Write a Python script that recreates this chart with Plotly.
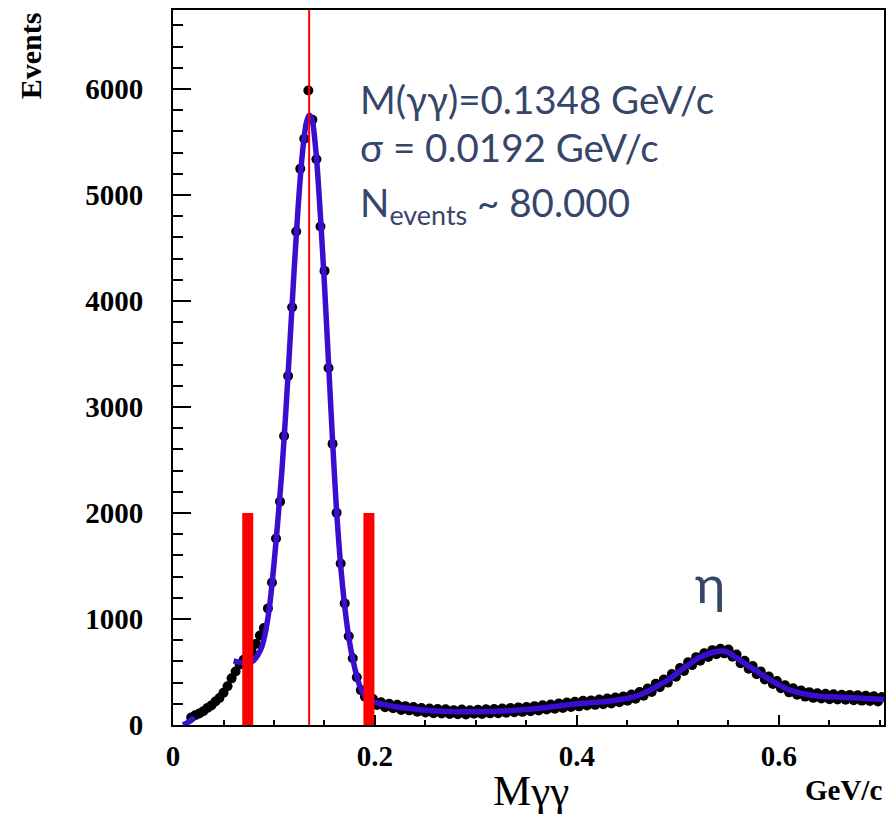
import numpy as np
import plotly.graph_objects as go

# Di-photon invariant mass histogram: 4 MeV bins starting at 0.016 GeV/c
BIN_LO = 0.016
BIN_W = 0.004
counts = [
    70, 92, 108, 130, 160, 185, 222, 255, 305, 365,
    440, 505, 570, 615, 650, 690, 765, 845, 915, 1100,
    1345, 1759, 2107, 2727, 3292, 3941, 4655, 5248, 5530, 5985,
    5709, 5337, 4702, 4284, 3367, 2652, 2003, 1524, 1147, 837,
    630, 451, 329,
    # 0.190 ...
    268, 218, 246, 188, 214, 168, 200, 158, 190, 142,
    178, 138, 170, 126, 160, 118, 156, 112, 150, 108,
    148, 104, 140, 102, 146, 100, 138, 106, 144, 104,
    148, 110, 150, 112, 156, 116, 160, 120, 166, 124,
    170, 130, 178, 136, 186, 146, 194, 154, 204, 160,
    212, 170, 220, 176, 228, 184, 232, 190, 240, 196,
    250, 204, 260, 214, 270, 228, 288, 248, 312, 276,
    345, 312, 388, 356, 430, 400, 480, 455, 538, 510,
    592, 565, 640, 606, 676, 642, 706, 668, 720, 676,
    712, 645, 664, 582, 606, 530, 556, 478, 505, 430,
    458, 386, 414, 346, 374, 308, 346, 286, 326, 268,
    310, 256, 300, 250, 294, 244, 290, 240, 286, 238,
    284, 234, 280, 230, 276, 226, 272, 222, 264,
]
bin_centers = BIN_LO + BIN_W * (np.arange(len(counts)) + 0.5)

# Fitted curve (signal + background), sampled points
fit_x = [0.010, 0.014, 0.018, 0.021, None,
         0.060, 0.064, 0.068, 0.072, 0.076, 0.080, 0.084, 0.088, 0.092, 0.096,
         0.100, 0.104, 0.108, 0.112, 0.116, 0.120, 0.124, 0.128, 0.132, 0.135,
         0.138, 0.142, 0.146, 0.150, 0.154, 0.158, 0.162, 0.166, 0.170, 0.174,
         0.178, 0.182, 0.186, 0.190, 0.194, 0.198, 0.202, 0.210, 0.220, 0.230,
         0.240, 0.250, 0.260, 0.270, 0.280, 0.290, 0.300, 0.310, 0.320, 0.330,
         0.340, 0.350, 0.360, 0.370, 0.380, 0.390, 0.400, 0.410, 0.420, 0.430,
         0.440, 0.450, 0.460, 0.470, 0.480, 0.490, 0.500, 0.510, 0.520, 0.530,
         0.540, 0.545, 0.550, 0.560, 0.570, 0.580, 0.590, 0.600, 0.610, 0.620,
         0.630, 0.640, 0.650, 0.660, 0.670, 0.680, 0.690, 0.700, 0.704]
fit_y = [0, 20, 45, 72, None,
         605, 595, 588, 585, 590, 610, 660, 740, 900, 1150,
         1520, 1950, 2420, 3000, 3640, 4300, 4900, 5380, 5680, 5755,
         5700, 5360, 4800, 4150, 3420, 2680, 2010, 1500, 1120, 830,
         620, 460, 340, 275, 240, 220, 208, 190, 172, 160,
         150, 140, 133, 128, 125, 124, 125, 127, 130, 134,
         140, 147, 156, 166, 178, 190, 200, 208, 215, 224,
         236, 252, 276, 318, 370, 425, 495, 565, 630, 672,
         695, 698, 685, 620, 555, 495, 432, 378, 332, 305,
         285, 272, 266, 262, 258, 254, 248, 242, 240]

# Mass window and mean
mean_mass = 0.1348
cut_lo, cut_hi = 0.074, 0.194
cut_height = 2000

x_range = [0, 0.704]
y_range = [0, 6745]

fig = go.Figure()

fig.add_trace(go.Scatter(
    x=bin_centers, y=counts, mode="markers",
    marker=dict(color="black", size=10), hoverinfo="skip", showlegend=False))

fig.add_trace(go.Scatter(
    x=fit_x, y=fit_y, mode="lines",
    line=dict(color="rgb(58,14,208)", width=5.5, shape="spline", smoothing=0.6),
    connectgaps=False, hoverinfo="skip", showlegend=False))

fig.add_trace(go.Scatter(
    x=[mean_mass, mean_mass], y=y_range, mode="lines",
    line=dict(color="red", width=2), hoverinfo="skip", showlegend=False))

for xc in (cut_lo, cut_hi):
    fig.add_trace(go.Scatter(
        x=[xc, xc], y=[0, cut_height], mode="lines",
        line=dict(color="red", width=11), hoverinfo="skip", showlegend=False))

tick_font = dict(family="Liberation Serif, Times New Roman, serif", size=29,
                 color="black", weight="bold")

fig.update_xaxes(
    range=x_range, dtick=0.2, tick0=0, showgrid=False, zeroline=False,
    showline=True, mirror=True, linecolor="black", linewidth=2,
    ticks="inside", ticklen=10, tickwidth=2, tickcolor="black",
    minor=dict(dtick=0.05, tick0=0, ticks="inside", ticklen=5, tickwidth=2, tickcolor="black"),
    tickfont=tick_font, ticklabelstandoff=4)

fig.update_yaxes(
    range=y_range, dtick=1000, tick0=0, showgrid=False, zeroline=False,
    showline=True, mirror=True, linecolor="black", linewidth=2,
    ticks="inside", ticklen=18, tickwidth=2, tickcolor="black",
    minor=dict(dtick=200, tick0=0, ticks="inside", ticklen=10, tickwidth=2, tickcolor="black"),
    tickfont=tick_font, ticklabelstandoff=22)

note_color = "#36456a"
note_font = dict(family="Lato, Carlito, sans-serif", size=38.5, color=note_color)

annotations = [
    dict(text="<b>Events</b>", textangle=-90, x=-0.201, y=0.999, xref="paper", yref="paper",
         xanchor="center", yanchor="top", showarrow=False,
         font=dict(family="Liberation Serif, serif", size=30, color="black")),
    dict(text="Mγγ", x=0.504, y=-0.092, xref="paper", yref="paper",
         xanchor="center", yanchor="middle", showarrow=False,
         font=dict(family="Liberation Serif, serif", size=43, color="black")),
    dict(text="<b>GeV/c</b>", x=1.0, y=-0.091, xref="paper", yref="paper",
         xanchor="right", yanchor="middle", showarrow=False,
         font=dict(family="Liberation Serif, serif", size=29, color="black")),
    dict(text="M(γγ)=0.1348 GeV/c", x=0.2607, y=0.876, xref="paper", yref="paper",
         xanchor="left", yanchor="middle", showarrow=False, font=note_font),
    dict(text="σ = 0.0192 GeV/c", x=0.2607, y=0.808, xref="paper", yref="paper",
         xanchor="left", yanchor="middle", showarrow=False, font=note_font),
    dict(text="N<sub>events</sub> ~ 80.000", x=0.2607, y=0.727, xref="paper", yref="paper",
         xanchor="left", yanchor="middle", showarrow=False, font=note_font),
    dict(text="η", x=0.755, y=0.199, xref="paper", yref="paper",
         xanchor="center", yanchor="middle", showarrow=False,
         font=dict(family="Lato, Carlito, sans-serif", size=52, color=note_color)),
]

fig.update_layout(
    width=895, height=817,
    margin=dict(l=173, r=11, t=8, b=92),
    paper_bgcolor="white", plot_bgcolor="white",
    annotations=annotations, showlegend=False)

fig.write_html("out.html")
